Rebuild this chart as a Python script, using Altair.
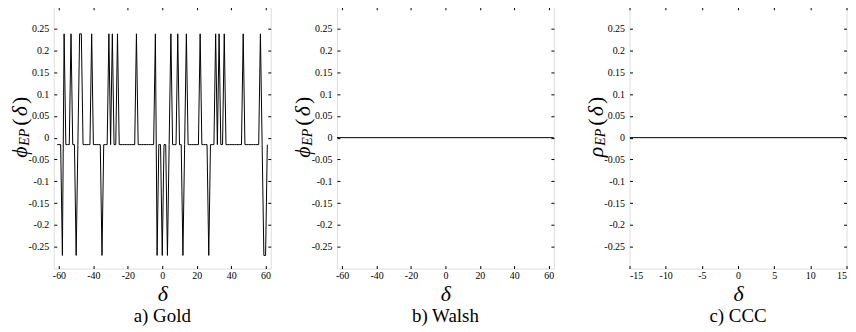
import altair as alt
import pandas as pd

# ---------------- data ----------------
gold_delta = list(range(-61, 62))
gold_value = [
    -0.016, -0.016, -0.016, -0.270, 0.238, -0.016, -0.016, -0.016, 0.238, -0.016,   # -61..-52
    -0.016, -0.270, -0.016, 0.238, 0.238, -0.016, -0.016, -0.016, -0.016, -0.016,   # -51..-42
    0.238, -0.016, -0.016, -0.016, -0.016, -0.016, -0.270, -0.016, -0.016, -0.016,  # -41..-32
    0.238, -0.016, 0.238, -0.016, -0.016, 0.238, -0.016, -0.016, -0.016, -0.016,    # -31..-22
    -0.016, -0.016, -0.016, -0.016, -0.016, -0.016, 0.238, -0.016, -0.016, -0.016,  # -21..-12
    -0.016, -0.016, -0.016, -0.016, -0.016, -0.016, -0.016, 0.238, -0.270, -0.016,  # -11..-2
    -0.016, -0.270, -0.016, -0.016, -0.270, -0.016, 0.238, -0.016, -0.016, -0.016,  # -1..8
    0.238, -0.016, -0.016, -0.270, -0.016, 0.238, -0.016, -0.016, -0.016, -0.016,   # 9..18
    -0.016, -0.016, -0.016, 0.238, -0.016, -0.016, -0.016, -0.016, -0.270, -0.016,  # 19..28
    -0.016, -0.016, 0.238, -0.016, 0.238, -0.016, -0.016, 0.238, -0.016, -0.016,    # 29..38
    -0.016, -0.016, -0.016, -0.016, -0.016, -0.016, -0.016, -0.016, 0.238, -0.016,  # 39..48
    -0.016, -0.016, -0.016, -0.016, -0.016, -0.016, -0.016, -0.016, 0.238, -0.016,  # 49..58
    -0.270, -0.270, -0.016,                                                        # 59..61
]
walsh_delta = [-63, 63]
walsh_value = [0.0, 0.0]
ccc_delta = [-15, 15]
ccc_value = [0.0, 0.0]

y_ticks = [-0.25, -0.2, -0.15, -0.1, -0.05, 0, 0.05, 0.1, 0.15, 0.2, 0.25]
x_ticks_ab = [-60, -40, -20, 0, 20, 40, 60]
x_ticks_c = [-15, -10, -5, 0, 5, 10, 15]
captions = ["a) Gold", "b) Walsh", "c) CCC"]
ylabel_symbols = ["ϕ", "ϕ", "ρ"]

# ---------------- style ----------------
FONT = "Liberation Serif"
W, H = 218, 263
TICK = 3
LABEL_EXPR = "datum.value < 0 ? '-' + format(-datum.value, '~g') : format(datum.value, '~g')"
ONE = pd.DataFrame({"k": [0]})


def txt(s, x, y, size, style):
    return alt.Chart(ONE).mark_text(
        text=s, angle=270, align="center", baseline="middle",
        font=FONT, fontSize=size, fontStyle=style, color="black",
    ).encode(x=alt.value(x), y=alt.value(y))


def panel(delta, value, xdom, xticks, caption, sym):
    df = pd.DataFrame({"delta": delta, "value": value})
    xs = alt.Scale(domain=xdom, nice=False, zero=False)
    ys = alt.Scale(domain=[-0.3, 0.3], nice=False, zero=False)
    line = alt.Chart(df).mark_line(color="black", strokeWidth=1, clip=True).encode(
        x=alt.X("delta:Q", scale=xs, axis=alt.Axis(
            orient="bottom", values=xticks, labelExpr=LABEL_EXPR,
            tickSize=TICK, offset=-TICK, domain=False, grid=False,
            tickColor="black", labelColor="black", labelFont=FONT, labelFontSize=10,
            labelPadding=2, title="δ", titleFont=FONT, titleFontSize=22,
            titleFontStyle="italic", titleFontWeight="normal", titleColor="black",
            titlePadding=3)),
        y=alt.Y("value:Q", scale=ys, axis=alt.Axis(
            orient="left", values=y_ticks, labelExpr=LABEL_EXPR,
            tickSize=TICK, offset=-TICK, domain=False, grid=False,
            tickColor="black", labelColor="black", labelFont=FONT, labelFontSize=10,
            labelPadding=5, title=None)),
    )
    mirror = alt.Chart(df).mark_line(opacity=0).encode(
        x=alt.X("delta:Q", scale=xs, axis=alt.Axis(
            orient="top", values=xticks, labels=False, tickSize=TICK, offset=-TICK,
            domain=False, grid=False, tickColor="black", title=None)),
        y=alt.Y("value:Q", scale=ys, axis=alt.Axis(
            orient="right", values=y_ticks, labels=False, tickSize=TICK, offset=-TICK,
            domain=False, grid=False, tickColor="black", title=None)),
    )
    ytitle = [
        txt(sym, -34, 146, 22, "italic"),
        txt("EP", -29, 131, 14, "italic"),
        txt("(", -34, 116, 22, "normal"),
        txt("δ", -34, 105, 22, "italic"),
        txt(")", -34, 94, 22, "normal"),
    ]
    return alt.layer(line, mirror, *ytitle).resolve_scale(
        x="independent", y="independent"
    ).properties(
        width=W, height=H,
        title=alt.TitleParams(caption, orient="bottom", anchor="middle", font=FONT,
                              fontSize=19, fontWeight="normal", color="black", offset=3),
    )


p1 = panel(gold_delta, gold_value, [-63, 63], x_ticks_ab, captions[0], ylabel_symbols[0])
p2 = panel(walsh_delta, walsh_value, [-63, 63], x_ticks_ab, captions[1], ylabel_symbols[1])
p3 = panel(ccc_delta, ccc_value, [-15, 15], x_ticks_c, captions[2], ylabel_symbols[2])

chart = alt.hconcat(
    alt.hconcat(p1, p2, spacing=19.5), p3, spacing=28.5
).properties(
    padding={"left": 0, "top": -3, "right": 0, "bottom": 0}
).configure_view(stroke="black", strokeWidth=1).configure_axis(
    labelFont=FONT, titleFont=FONT
).configure_text(font=FONT).configure(background="white")

chart.save("out.html", embed_options={"renderer": "svg", "actions": False})
